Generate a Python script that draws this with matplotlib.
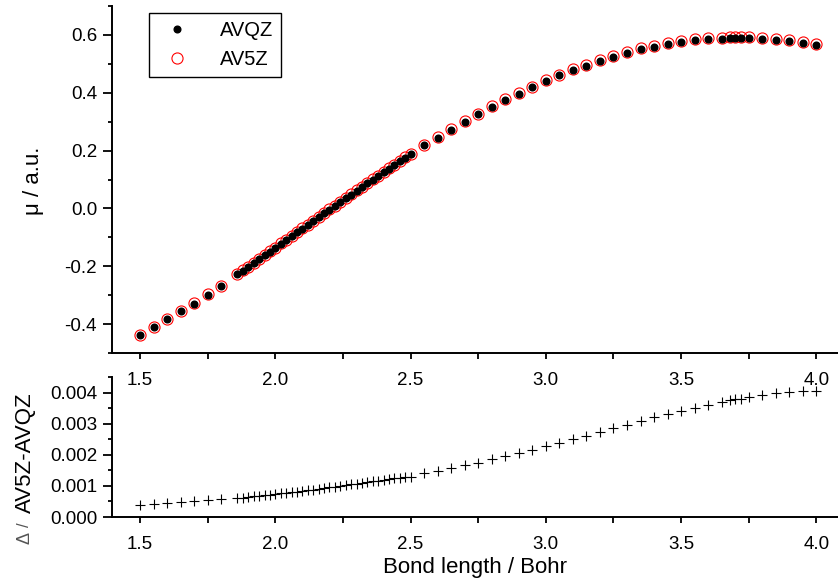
import matplotlib
matplotlib.use("Agg")
import matplotlib.pyplot as plt
from matplotlib.ticker import MultipleLocator, FormatStrFormatter
import numpy as np

plt.rcParams['font.family'] = ['Liberation Sans', 'DejaVu Sans']

# bond length, Bohr
bond = [1.50, 1.55, 1.60, 1.65, 1.70, 1.75, 1.80,
        1.86, 1.88, 1.90, 1.92, 1.94, 1.96, 1.98, 2.00, 2.02, 2.04, 2.06,
        2.08, 2.10, 2.12, 2.14, 2.16, 2.18, 2.20, 2.22, 2.24, 2.26, 2.28,
        2.30, 2.32, 2.34, 2.36, 2.38, 2.40, 2.42, 2.44, 2.46, 2.48, 2.50,
        2.55, 2.60, 2.65, 2.70, 2.75, 2.80, 2.85, 2.90, 2.95, 3.00, 3.05,
        3.10, 3.15, 3.20, 3.25, 3.30, 3.35, 3.40, 3.45, 3.50, 3.55, 3.60,
        3.65, 3.68, 3.70, 3.72, 3.75, 3.80, 3.85, 3.90, 3.95, 4.00]

# dipole moment, AVQZ basis (a.u.)
mu_avqz = [-0.437, -0.410, -0.384, -0.355, -0.329, -0.298, -0.269,
           -0.228, -0.215, -0.202, -0.188, -0.175, -0.162, -0.149, -0.136,
           -0.122, -0.109, -0.096, -0.083, -0.070, -0.057, -0.043, -0.030,
           -0.017, -0.004, 0.009, 0.022, 0.035, 0.048, 0.061, 0.074, 0.087,
           0.100, 0.112, 0.125, 0.138, 0.150, 0.163, 0.175, 0.188,
           0.218, 0.245, 0.272, 0.299, 0.326, 0.351, 0.376, 0.397, 0.419,
           0.441, 0.460, 0.478, 0.494, 0.511, 0.524, 0.539, 0.551, 0.560,
           0.570, 0.576, 0.582, 0.586, 0.587, 0.588, 0.588, 0.588, 0.588,
           0.587, 0.583, 0.579, 0.573, 0.565]

# AV5Z - AVQZ difference
delta = [0.00040, 0.00043, 0.00046, 0.00049, 0.00051, 0.00054, 0.00057,
         0.00061, 0.00062, 0.00064, 0.00066, 0.00068, 0.00070, 0.00072,
         0.00074, 0.00076, 0.00078, 0.00080, 0.00082, 0.00084, 0.00086,
         0.00088, 0.00090, 0.00093, 0.00095, 0.00097, 0.00100, 0.00102,
         0.00105, 0.00107, 0.00110, 0.00112, 0.00115, 0.00117, 0.00120,
         0.00122, 0.00124, 0.00126, 0.00128, 0.00130,
         0.00141, 0.00148, 0.00157, 0.00166, 0.00175, 0.00186, 0.00196,
         0.00205, 0.00217, 0.00228, 0.00239, 0.00252, 0.00262, 0.00274,
         0.00286, 0.00297, 0.00309, 0.00320, 0.00331, 0.00342, 0.00352,
         0.00361, 0.00371, 0.00376, 0.00378, 0.00380, 0.00385, 0.00392,
         0.00398, 0.00402, 0.00404, 0.00406]

mu_av5z = list(np.array(mu_avqz) + np.array(delta))

fig = plt.figure(figsize=(8.38, 5.84), dpi=100)
ax2 = fig.add_axes([0.1333, 0.1147, 0.8667, 0.2397])
ax1 = fig.add_axes([0.1333, 0.3955, 0.8667, 0.5942])
ax1.patch.set_visible(False)
ax2.patch.set_visible(False)


def style_axis(ax):
    for side in ["top", "right"]:
        ax.spines[side].set_visible(False)
    for side in ["left", "bottom"]:
        ax.spines[side].set_linewidth(1.4)
    ax.set_xlim(1.395, 4.08)
    ax.xaxis.set_major_locator(MultipleLocator(0.5))
    ax.xaxis.set_minor_locator(MultipleLocator(0.25))
    ax.tick_params(axis="x", which="both", direction="out", length=4.5, width=1.3,
                   pad=9, labelsize=13.5)
    ax.tick_params(axis="y", which="major", direction="out", length=6.5, width=1.3,
                   pad=4, labelsize=13.5)
    ax.tick_params(axis="y", which="minor", direction="out", length=3.2, width=1.3)


style_axis(ax1)
ax1.plot(bond, mu_av5z, "o", ms=8, mfc="none", mec="red", mew=0.8, label="AV5Z", zorder=2)
ax1.plot(bond, mu_avqz, "o", ms=4.8, color="black", label="AVQZ", zorder=3)
ax1.set_ylim(-0.5, 0.7)
ax1.yaxis.set_minor_locator(MultipleLocator(0.1))
ax1.set_yticks([-0.4, -0.2, 0.0, 0.2, 0.4, 0.6])
ax1.set_yticklabels(["-0.4", "-0.2", "0.0", "0.2", "0.4", "0.6"])

h, l = ax1.get_legend_handles_labels()
leg = ax1.legend(h[::-1], l[::-1], loc="upper left", bbox_to_anchor=(0.0514, 0.9807),
                 borderaxespad=0, fancybox=False, edgecolor="black", framealpha=1,
                 fontsize=14.5, handletextpad=1.1, borderpad=0.4, labelspacing=0.5)
leg.get_frame().set_linewidth(1.0)

style_axis(ax2)
ax2.plot(bond, delta, "+", ms=6.5, mew=0.8, color="black")
ax2.set_ylim(0, 0.0045)
ax2.yaxis.set_major_locator(MultipleLocator(0.001))
ax2.yaxis.set_minor_locator(MultipleLocator(0.0005))
ax2.yaxis.set_major_formatter(FormatStrFormatter("%.3f"))
ax2.set_xlabel("Bond length / Bohr", fontsize=16, labelpad=3)

fig.text(0.0394, 0.690, "μ / a.u.", rotation=90, ha="center", va="center", fontsize=16)
fig.text(0.0298, 0.2252, "AV5Z-AVQZ", rotation=90, ha="center", va="center", fontsize=16)
fig.text(0.0298, 0.1010, "/", rotation=90, ha="center", va="center", fontsize=12, color="#555555")
fig.text(0.0298, 0.0780, "Δ", rotation=90, ha="center", va="center", fontsize=13, color="#555555")

plt.savefig("out.png", dpi=100)
plt.close()
